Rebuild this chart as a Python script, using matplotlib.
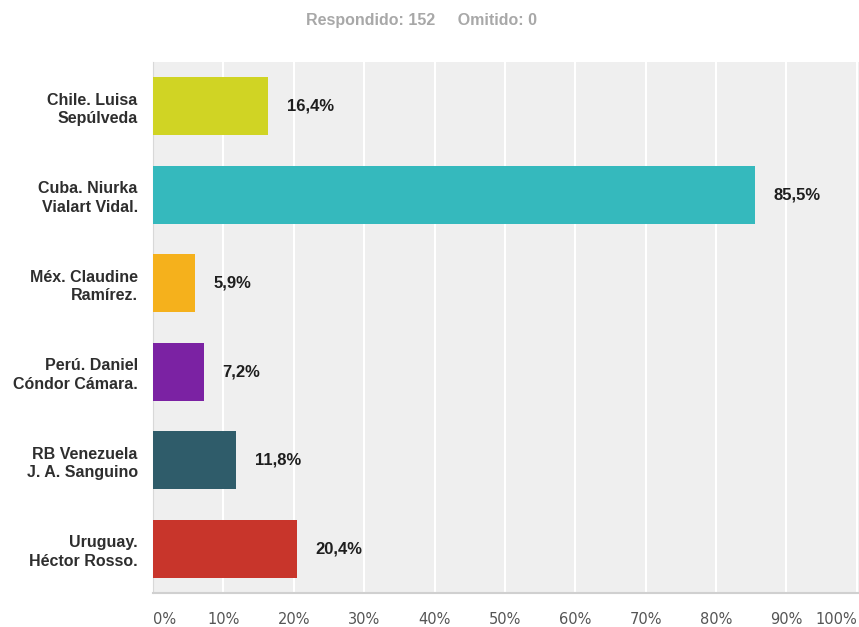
import matplotlib.pyplot as plt
import matplotlib

matplotlib.rcParams['font.family'] = ['Liberation Sans', 'DejaVu Sans']

# Survey data
labels = [
    "Chile. Luisa\nSepúlveda",
    "Cuba. Niurka\nVialart Vidal.",
    "Méx. Claudine\nRamírez.",
    "Perú. Daniel\nCóndor Cámara.",
    "RB Venezuela\nJ. A. Sanguino",
    "Uruguay.\nHéctor Rosso.",
]
values = [16.4, 85.5, 5.9, 7.2, 11.8, 20.4]
bar_colors = ["#d0d424", "#35b9bd", "#f5b11c", "#7b22a3", "#2f5c6a", "#c8352b"]
tick_vals = [0, 10, 20, 30, 40, 50, 60, 70, 80, 90, 100]
header = "Respondido: 152     Omitido: 0"

W, H = 859, 627
fig = plt.figure(figsize=(W / 100, H / 100), dpi=100)
ax = fig.add_axes([153 / W, 1 - 593 / H, (859 - 153) / W, (593 - 62) / H])
ax.set_facecolor("#efefef")

y = list(range(len(labels)))
ax.barh(y, values, height=0.66, color=bar_colors, zorder=3)
ax.set_ylim(len(labels) - 0.5, -0.5)
ax.set_xlim(0, 100.3)

for v, yy in zip(values, y):
    ax.annotate(f"{v:.1f}".replace(".", ",") + "%", (v, yy), xytext=(19, 0),
                textcoords="offset pixels",
                va="center", ha="left", fontsize=12, fontweight="bold",
                color="#1e1e1e", zorder=4)

# grid
for t in tick_vals[1:]:
    ax.axvline(t, color="white", lw=1.5, zorder=1)

ax.set_yticks(y)
ax.set_yticklabels(labels, fontsize=11.5, fontweight="bold", color="#2e2e2e",
                   linespacing=1.3)
ax.tick_params(axis="y", length=0, pad=11)

ax.set_xticks(tick_vals)
ax.set_xticklabels([f"{t}%" for t in tick_vals], fontsize=10.5, color="#555555",
                   family="DejaVu Sans")
ax.tick_params(axis="x", length=0, pad=14)
xt = ax.get_xticklabels()
xt[0].set_ha("left")
xt[-1].set_ha("right")

for s in ["top", "right"]:
    ax.spines[s].set_visible(False)
ax.spines["left"].set_color("#d8d8d8")
ax.spines["bottom"].set_color("#d0d0d0")
ax.spines["bottom"].set_linewidth(1.5)

fig.text(421 / W, 1 - 21 / H, header, ha="center", va="center",
         fontsize=11.5, fontweight="bold", color="#a8a8a8")

fig.savefig("out.png", dpi=100, facecolor="white")
